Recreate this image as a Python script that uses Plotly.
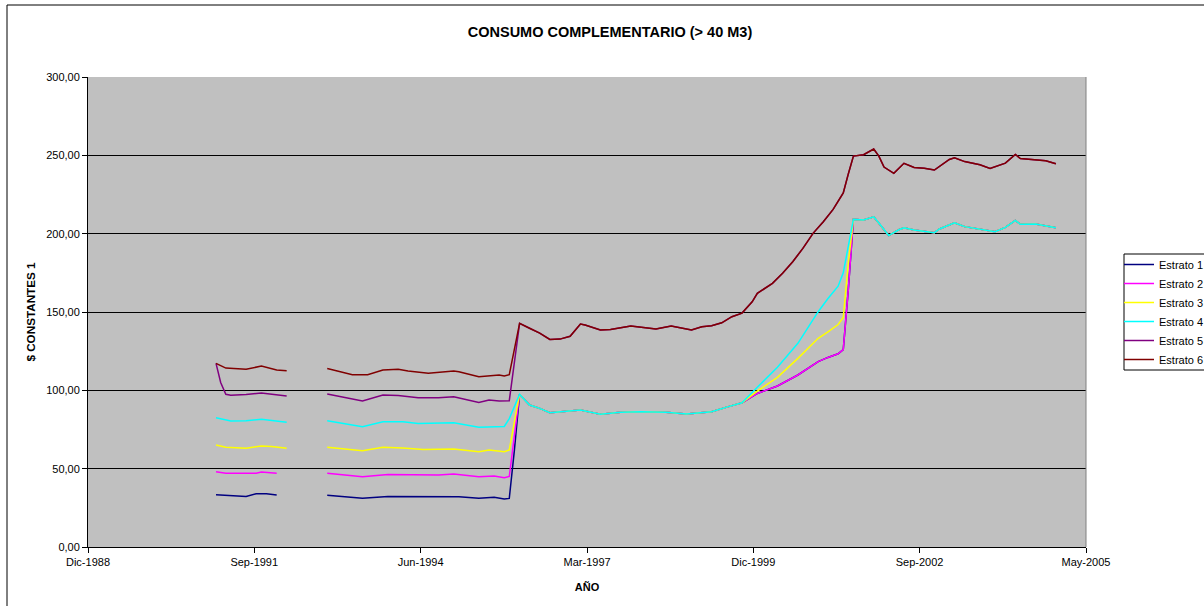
import plotly.graph_objects as go

# ---------------- data ----------------
# Early block: Feb 1991 - Apr 1992
e6_early_dates = ["1991-02-01", "1991-04-01", "1991-08-01", "1991-11-01", "1992-02-01", "1992-04-01"]
e6_early = [117.2, 114.2, 113.4, 115.5, 113.0, 112.5]
e5_early_dates = ["1991-02-01", "1991-03-01", "1991-04-01", "1991-05-01", "1991-08-01", "1991-11-01", "1992-04-01"]
e5_early = [117.2, 105.0, 97.5, 96.8, 97.3, 98.3, 96.4]
e4_early_dates = ["1991-02-01", "1991-05-01", "1991-08-01", "1991-11-01", "1992-04-01"]
e4_early = [82.5, 80.5, 80.6, 81.5, 79.6]
e3_early_dates = ["1991-02-01", "1991-04-01", "1991-08-01", "1991-11-01", "1992-01-01", "1992-04-01"]
e3_early = [65.1, 63.7, 63.0, 64.5, 64.2, 63.0]
e2_early_dates = ["1991-02-01", "1991-04-01", "1991-10-01", "1991-11-01", "1992-02-01"]
e2_early = [48.1, 47.1, 47.1, 47.8, 47.0]
e1_early_dates = ["1991-02-01", "1991-08-01", "1991-10-01", "1991-12-01", "1992-02-01"]
e1_early = [33.4, 32.3, 34.0, 34.0, 33.2]

# Second block: Dec 1992 - Jan 1996 (before the jump)
e6_mid_dates = ["1992-12-01", "1993-05-01", "1993-08-01", "1993-11-01", "1994-02-01", "1994-04-01",
                "1994-08-01", "1995-01-01", "1995-02-01", "1995-05-01", "1995-06-01", "1995-10-01",
                "1995-11-01", "1995-12-01", "1996-01-01"]
e6_mid = [114.0, 110.0, 110.0, 113.0, 113.4, 112.3, 110.9, 112.3, 111.8, 109.2, 108.7, 109.8,
          109.1, 110.0, 127.0]
e5_mid_dates = ["1992-12-01", "1993-07-01", "1993-11-01", "1994-02-01", "1994-06-01", "1994-10-01",
                "1995-01-01", "1995-06-01", "1995-08-01", "1995-10-01", "1995-12-01", "1996-01-01"]
e5_mid = [97.6, 93.2, 97.0, 96.7, 95.3, 95.3, 95.9, 92.3, 93.8, 93.2, 93.4, 118.0]
e4_mid_dates = ["1992-12-01", "1993-07-01", "1993-11-01", "1994-03-01", "1994-06-01", "1994-10-01",
                "1995-01-01", "1995-06-01", "1995-11-01", "1995-12-01", "1996-01-01"]
e4_mid = [80.6, 76.8, 80.0, 80.0, 78.9, 78.9, 79.3, 76.4, 76.9, 82.0, 90.0]
e3_mid_dates = ["1992-12-01", "1993-07-01", "1993-11-01", "1994-03-01", "1994-07-01", "1995-01-01",
                "1995-06-01", "1995-08-01", "1995-11-01", "1995-12-01", "1996-01-01"]
e3_mid = [63.6, 61.5, 63.6, 63.2, 62.3, 62.5, 60.8, 61.9, 60.8, 62.0, 80.0]
e2_mid_dates = ["1992-12-01", "1993-07-01", "1993-12-01", "1994-05-01", "1994-10-01", "1995-01-01",
                "1995-06-01", "1995-09-01", "1995-11-01", "1995-12-01", "1996-01-01"]
e2_mid = [47.0, 44.9, 46.2, 46.0, 46.0, 46.6, 44.9, 45.3, 44.2, 45.0, 72.0]
e1_mid_dates = ["1992-12-01", "1993-07-01", "1993-12-01", "1994-05-01", "1994-10-01", "1995-02-01",
                "1995-06-01", "1995-09-01", "1995-11-01", "1995-12-01", "1996-01-01"]
e1_mid = [33.0, 31.1, 32.3, 32.1, 32.3, 32.1, 31.1, 31.7, 30.6, 31.0, 62.0]

# Estratos 1-4 share one level from Feb 1996 to Oct 1999
low_dates = ["1996-02-01", "1996-04-01", "1996-06-01", "1996-08-01", "1996-11-01", "1997-02-01",
             "1997-06-01", "1997-10-01", "1998-02-01", "1998-07-01", "1998-11-01", "1999-04-01",
             "1999-07-01", "1999-10-01"]
low_vals = [97.4, 90.6, 88.5, 85.7, 86.4, 87.4, 84.7, 86.0, 86.4, 86.0, 84.9, 86.4, 89.3, 92.1]

# Estratos 1-4 diverge, Jan 2000 - Jul 2001
rise_dates = ["2000-01-01", "2000-05-01", "2000-09-01", "2001-01-01", "2001-03-01", "2001-05-01",
              "2001-06-01", "2001-07-01"]
e4_rise = [102.0, 114.7, 130.0, 150.2, 158.6, 166.5, 175.0, 192.0]
e3_rise = [99.5, 108.3, 120.4, 133.2, 137.3, 142.0, 146.5, 181.0]
e12_rise = [98.0, 102.8, 109.8, 118.3, 121.0, 123.3, 126.0, 164.0]

# Estratos 1-4 share one level from Aug 2001 to Dec 2004
high_dates = ["2001-08-01", "2001-10-01", "2001-12-01", "2002-01-01", "2002-03-01", "2002-05-01",
              "2002-06-01", "2002-08-01", "2002-12-01", "2003-01-01", "2003-04-01", "2003-06-01",
              "2003-09-01", "2003-12-01", "2004-02-01", "2004-04-01", "2004-05-01", "2004-08-01",
              "2004-12-01"]
high_vals = [209.1, 208.7, 210.8, 206.8, 198.8, 202.5, 203.8, 202.3, 200.6, 203.0, 207.0, 204.5,
             203.0, 201.2, 204.0, 208.5, 206.0, 206.1, 203.8]

# Estratos 5-6 share one level from Feb 1996 to Dec 2004
top_dates = ["1996-02-01", "1996-04-01", "1996-06-01", "1996-08-01", "1996-10-01", "1996-12-01",
             "1997-02-01", "1997-03-01", "1997-06-01", "1997-08-01", "1997-12-01", "1998-05-01",
             "1998-08-01", "1998-12-01", "1999-02-01", "1999-04-01", "1999-06-01", "1999-08-01",
             "1999-10-01", "1999-12-01", "2000-01-01", "2000-04-01", "2000-06-01", "2000-08-01",
             "2000-10-01", "2000-12-01", "2001-02-01", "2001-04-01", "2001-06-01", "2001-07-01",
             "2001-08-01", "2001-10-01", "2001-12-01", "2002-01-01", "2002-02-01", "2002-04-01",
             "2002-06-01", "2002-08-01", "2002-10-01", "2002-12-01", "2003-03-01", "2003-04-01",
             "2003-06-01", "2003-09-01", "2003-11-01", "2004-02-01", "2004-04-01", "2004-05-01",
             "2004-07-01", "2004-10-01", "2004-12-01"]
top_vals = [142.8, 139.6, 136.5, 132.5, 132.7, 134.5,
            142.3, 141.7, 138.5, 138.9, 141.0, 139.1,
            141.0, 138.5, 140.6, 141.2, 143.1, 147.0,
            149.3, 156.5, 161.9, 168.3, 174.7, 182.1,
            190.6, 200.2, 207.6, 215.5, 226.0, 238.0,
            249.5, 250.4, 254.0, 249.5, 242.5, 238.5,
            244.9, 242.3, 241.8, 240.6, 247.4, 248.4,
            246.0, 244.0, 241.7, 245.0, 250.6, 248.0,
            247.4, 246.5, 244.6]

series_names = ["Estrato 1", "Estrato 2", "Estrato 3", "Estrato 4", "Estrato 5", "Estrato 6"]
series_colors = ["#000080", "#FF00FF", "#FFFF00", "#00FFFF", "#800080", "#800000"]

tick_dates = ["1988-12-23", "1991-09-19", "1994-06-16", "1997-03-13", "1999-12-08", "2002-09-03", "2005-05-31"]
tick_labels = ["Dic-1988", "Sep-1991", "Jun-1994", "Mar-1997", "Dic-1999", "Sep-2002", "May-2005"]

# ---------------- assemble series ----------------
series_x = [
    e1_early_dates + [None] + e1_mid_dates + low_dates + rise_dates + high_dates,
    e2_early_dates + [None] + e2_mid_dates + low_dates + rise_dates + high_dates,
    e3_early_dates + [None] + e3_mid_dates + low_dates + rise_dates + high_dates,
    e4_early_dates + [None] + e4_mid_dates + low_dates + rise_dates + high_dates,
    e5_early_dates + [None] + e5_mid_dates + top_dates,
    e6_early_dates + [None] + e6_mid_dates + top_dates,
]
series_y = [
    e1_early + [None] + e1_mid + low_vals + e12_rise + high_vals,
    e2_early + [None] + e2_mid + low_vals + e12_rise + high_vals,
    e3_early + [None] + e3_mid + low_vals + e3_rise + high_vals,
    e4_early + [None] + e4_mid + low_vals + e4_rise + high_vals,
    e5_early + [None] + e5_mid + top_vals,
    e6_early + [None] + e6_mid + top_vals,
]

FONT = "Liberation Sans, Arial, sans-serif"
L, R, T, B = 88, 1086, 77, 547   # plot area in pixels
PW, PH = R - L, B - T

fig = go.Figure()
for name, color, xs, ys in zip(series_names, series_colors, series_x, series_y):
    fig.add_trace(go.Scatter(x=xs, y=ys, mode="lines", name=name,
                             line=dict(color=color, width=1.5),
                             connectgaps=False, hoverinfo="x+y+name"))

fig.update_layout(
    width=1204, height=606,
    margin=dict(l=L, r=1204 - R, t=T, b=606 - B, autoexpand=False),
    paper_bgcolor="white",
    plot_bgcolor="#C0C0C0",
    separators=",.",
    font=dict(family=FONT, size=11, color="black"),
    title=dict(text="<b>CONSUMO COMPLEMENTARIO (> 40 M3)</b>",
               x=610 / 1204, xref="container", xanchor="center",
               y=1 - 32 / 606, yref="container", yanchor="middle",
               font=dict(family=FONT, size=14.5, color="black")),
    showlegend=True,
    legend=dict(x=(1119 - L) / PW, xanchor="left",
                y=(B - 250) / PH, yanchor="top",
                bgcolor="rgba(0,0,0,0)", borderwidth=0,
                font=dict(family=FONT, size=11, color="black"),
                itemwidth=30, tracegroupgap=0),
    xaxis=dict(type="date", range=["1988-12-23", "2005-05-31"],
               tickmode="array", tickvals=tick_dates, ticktext=tick_labels,
               ticks="outside", ticklen=5, tickcolor="black",
               showgrid=False, zeroline=False,
               showline=True, linecolor="black", linewidth=1,
               tickfont=dict(family=FONT, size=11, color="black"),
               title=dict(text="<b>AÑO</b>", standoff=16,
                          font=dict(family=FONT, size=11, color="black"))),
    yaxis=dict(range=[0, 300], tickmode="linear", tick0=0, dtick=50,
               tickformat=".2f",
               ticks="outside", ticklen=5, tickcolor="black",
               showgrid=True, gridcolor="black", gridwidth=1,
               zeroline=False,
               showline=True, linecolor="black", linewidth=1,
               tickfont=dict(family=FONT, size=11, color="black"),
               title=dict(text="<b>$ CONSTANTES 1</b>", standoff=8,
                          font=dict(family=FONT, size=11.7, color="black"))),
    shapes=[
        # right edge of the plot area (grey)
        dict(type="line", xref="paper", yref="paper", x0=1, x1=1, y0=0, y1=1,
             line=dict(color="#808080", width=1)),
        # outer chart border (extends past the window at right and bottom)
        dict(type="rect", xref="paper", yref="paper",
             x0=(7 - L) / PW, x1=1.3, y0=-0.3, y1=(B - 5) / PH,
             line=dict(color="black", width=1), fillcolor="rgba(0,0,0,0)",
             layer="below"),
        # legend frame
        dict(type="rect", xref="paper", yref="paper",
             x0=(1124 - L) / PW, x1=(1230 - L) / PW,
             y0=(B - 370) / PH, y1=(B - 254) / PH,
             line=dict(color="black", width=1), fillcolor="white",
             layer="below"),
    ],
)

fig.write_html("out.html", config={"displayModeBar": False},
               post_script="document.body.style.margin='0px';")
